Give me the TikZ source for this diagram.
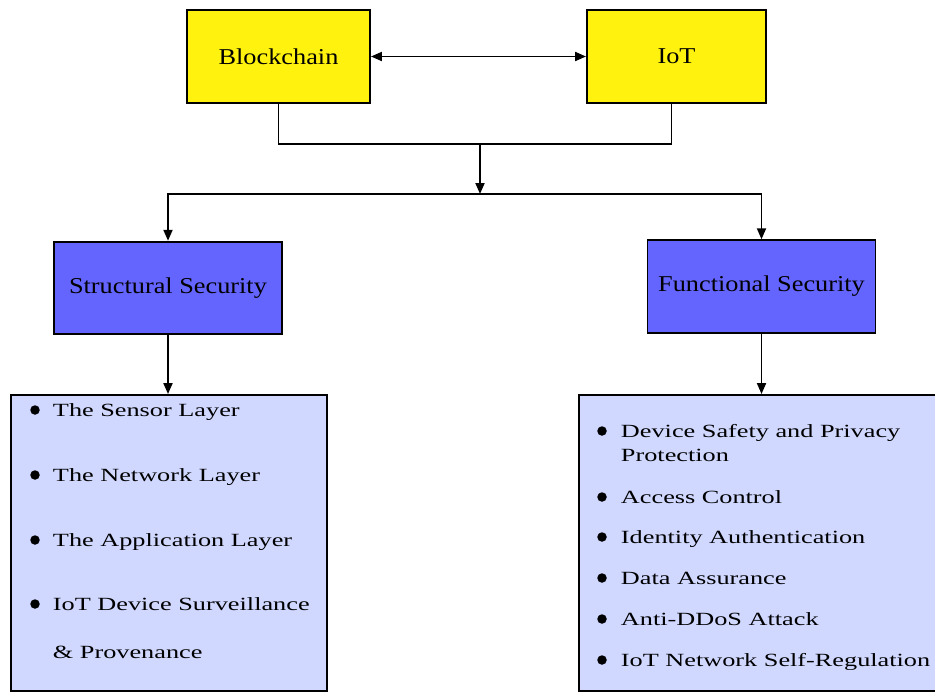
\documentclass[tikz,border=0pt]{standalone}
\usepackage{fontspec}
\setmainfont{Liberation Serif}
\newfontfamily\boxfont[FakeStretch=1.16]{Liberation Serif}
\newfontfamily\listfont[FakeStretch=1.41]{Liberation Serif}
\usetikzlibrary{arrows.meta, positioning, calc}
\definecolor{chainyellow}{RGB}{255,242,15}
\definecolor{secblue}{RGB}{100,100,255}
\definecolor{listblue}{RGB}{208,216,255}

\begin{document}
\begin{tikzpicture}[x=0.2mm, y=-0.2mm, >={Triangle[length=2.2mm, width=1.8mm]}, line width=1.1pt]
	\tikzstyle{top_style}=[rectangle, draw, fill=chainyellow, minimum width=36.6mm, minimum height=18.6mm, font=\boxfont\fontsize{12.9}{15}\selectfont]
	\tikzstyle{sec_style}=[rectangle, draw, fill=secblue, minimum width=45.6mm, minimum height=18.5mm, font=\boxfont\fontsize{12.9}{15}\selectfont]
	\tikzstyle{list_style}=[rectangle, draw, fill=listblue, minimum height=59.2mm]
	\tikzstyle{item_style}=[anchor=base west, inner sep=0pt, font=\listfont\fontsize{10.6}{12}\selectfont]
	\useasboundingbox (0,0) rectangle (935,692);
	% blockchain and iot
	\draw node at (278.5, 56.5) [top_style] (blockchain) {Blockchain};
	\draw node at (676.5, 56.5) [top_style, minimum width=35.8mm] (iot) {IoT};
	\draw[<->] (blockchain) -- (iot);
	% security kinds
	\draw node at (168, 288) [sec_style] (structural) {Structural Security};
	\draw node at (761.5, 286.5) [sec_style] (functional) {Functional Security};
	% list boxes
	\draw node at (169, 543) [list_style, minimum width=63.2mm] (struct_list) {};
	\draw node at (759.5, 543) [list_style, minimum width=72.2mm] (func_list) {};
	% structural items
	\foreach \y/\t in {416/The Sensor Layer, 481/The Network Layer, 546/The Application Layer, 610/IoT Device Surveillance}
	{
		\fill (35, \y-6) circle (0.95mm);
		\node at (52, \y) [item_style] (struct_item_\y) {\t};
	}
	\node at (52, 658) [item_style] (struct_item_658) {\& Provenance};
	% functional items
	\foreach \y/\t in {437/Device Safety and Privacy, 503/Access Control, 543/Identity Authentication, 584/Data Assurance, 625/Anti-DDoS Attack, 666/IoT Network Self-Regulation}
	{
		\fill (602, \y-6) circle (0.95mm);
		\node at (620, \y) [item_style] (func_item_\y) {\t};
	}
	\node at (620, 461) [item_style] (func_item_461) {Protection};
	% connect: top boxes -> security kinds
	\coordinate (join) at (480, 144);
	\coordinate (split) at (480, 194);
	\draw (blockchain.south) |- (join) -| ($(iot.south)+(-5,0)$);
	\draw[->] (join) -- (split);
	\draw[->] (split) -| (structural.north);
	\draw[->] (split) -| (functional.north);
	% connect: security kinds -> lists
	\draw[->] (structural.south) -- (structural.south |- struct_list.north);
	\draw[->] (functional.south) -- (functional.south |- func_list.north);
\end{tikzpicture}
\end{document}
